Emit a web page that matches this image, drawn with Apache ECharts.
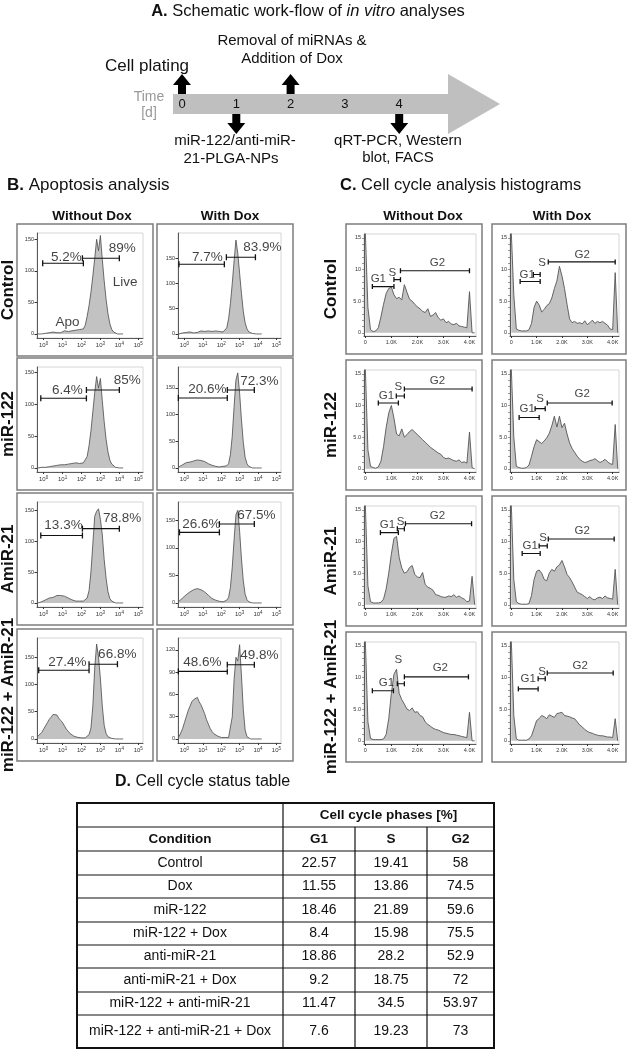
<!DOCTYPE html>
<html>
<head>
<meta charset="utf-8">
<title>miR-122 / AmiR-21 analyses</title>
<style>
  html, body { margin: 0; padding: 0; background: #fff; }
  #chart { width: 628px; height: 1050px; }
</style>
</head>
<body>
<div id="chart"></div>
<script src="https://cdn.jsdelivr.net/npm/echarts@6/dist/echarts.min.js"></script>
<script>
// ---------- data: apoptosis histograms (x = log10 decade, y = count) ----------
var apoBins = [-0.3,-0.2,-0.1,0,0.1,0.2,0.3,0.4,0.5,0.6,0.7,0.8,0.9,1,1.1,1.2,1.3,1.4,1.5,1.6,1.7,1.8,1.9,2,2.1,2.2,2.3,2.4,2.5,2.6,2.7,2.8,2.9,3,3.1,3.2,3.3,3.4,3.5,3.6,3.7,3.8,3.9,4,4.1,4.2];
var apoCtrlNoDox  = [0,1,0,2,1,0,2,1,3,1, 2,4,2,3,5,2,4,3,5,3, 6,4,7,5,8,14,28,45,66,92, 120,150,132,156,118,84,55,32,16,7, 3,1,0,0,0,0];
var apoCtrlDox    = [0,1,2,1,3,2,4,3,2,5, 3,4,6,3,5,4,6,3,5,4, 6,4,5,3,4,6,12,30,60,100, 145,186,160,120,80,45,22,10,4,2, 1,0,0,0,0,0];
var apoMirNoDox   = [0,0,1,2,1,3,2,4,3,5, 4,6,5,7,5,8,6,5,7,6, 8,5,7,6,8,10,18,35,58,88, 118,143,125,140,105,72,45,25,12,6, 3,1,0,0,0,0];
var apoMirDox     = [2,4,6,8,10,12,11,14,13,16, 15,17,14,15,12,10,8,6,5,4, 3,3,2,2,3,2,4,8,25,60, 115,165,178,140,90,48,20,8,3,1, 0,0,0,0,0,0];
var apoAmiNoDox   = [0,1,2,3,5,6,8,7,9,10, 12,11,12,10,11,9,8,6,5,4, 3,4,3,2,3,4,8,20,50,95, 140,148,152,135,110,70,40,18,7,3, 1,0,0,0,0,0];
var apoAmiDox     = [3,6,9,12,15,18,20,22,24,23, 26,25,24,22,20,17,14,11,8,6, 5,4,3,3,2,3,5,10,28,65, 115,160,168,130,80,40,16,6,2,1, 0,0,0,0,0,0];
var apoComboNoDox = [5,8,12,18,24,30,36,40,45,42, 44,38,34,30,24,18,14,10,7,5, 4,3,3,2,3,2,4,8,20,60, 130,174,150,110,60,25,10,4,2,1, 0,0,0,0,0,0];
var apoComboDox   = [3,8,14,22,30,38,44,50,53,52, 56,50,46,40,34,26,20,14,10,7, 5,4,3,2,1,2,1,2,2,30, 80,110,105,127,85,40,12,3,1,0, 0,0,0,0,0,0];
var apoYMax  = [160, 200, 158, 189, 163, 183, 185, 136];
var apoYTicks = [[0,50,100,150],[0,50,100,150],[0,50,100,150],[0,50,100,150],[0,50,100,150],[0,50,100,150],[0,50,100,150],[0,30,60,90,120]];
var apoXTicks = [0, 1, 2, 3, 4, 5];
// gates [from, to, height] and percentages with their label anchor [x, y]
var apoLeftGate  = [[-0.05,2.1,112],[-0.3,2.17,138],[-0.15,2.26,109],[-0.33,2.33,131],[-0.15,2.05,109],[-0.27,1.9,128],[-0.26,2.4,126],[-0.33,2.33,91]];
var apoRightGate = [[2.05,4.0,120],[2.28,3.86,152],[2.26,4.0,122],[2.33,3.8,146],[2.05,4.0,120],[1.9,3.8,143],[2.4,3.9,137],[2.33,3.8,100]];
var apoLeftPct  = ['5.2%','7.7%','6.4%','20.6%','13.3%','26.6%','27.4%','48.6%'];
var apoRightPct = ['89%','83.9%','85%','72.3%','78.8%','67.5%','66.8%','49.8%'];
var apoLeftPos  = [[1.2,122],[1.25,152],[1.26,122],[1.25,148],[1.05,125],[0.92,143],[1.26,141],[0.98,103]];
var apoRightPos = [[4.15,136],[4.24,172],[4.42,137],[4.08,163],[4.15,137],[3.91,159],[3.89,155],[4.08,113]];

// ---------- data: cell cycle histograms (x = DNA content in K, y = count) ----------
var ccBins = [0,0.1,0.2,0.3,0.4,0.5,0.6,0.7,0.8,0.9,1,1.1,1.2,1.3,1.4,1.5,1.6,1.7,1.8,1.9,2,2.1,2.2,2.3,2.4,2.5,2.6,2.7,2.8,2.9,3,3.1,3.2,3.3,3.4,3.5,3.6,3.7,3.8,3.9,4,4.1,4.2];
var ccCtrlNoDox  = [16,4,0.5,0.2,0.3,0.8,2.5,4.5,6.2,7.0, 7.2,6.0,5.4,5.6,5.2,7.6,6.4,5.3,5.0,4.5, 4.1,3.8,3.4,3.2,3.8,2.6,2.8,3.2,2.4,2.0, 2.2,1.6,1.8,1.4,1.3,1.5,1.1,1.0,0.9,0.8, 6.5,0,0];
var ccCtrlDox    = [16,6,0.6,0.4,0.3,0.3,0.3,0.5,1.5,4.0, 5.0,4.4,3.3,3.7,4.3,4.6,5.5,7.0,8.2,10.5, 9.0,7.0,4.5,2.2,1.6,1.8,1.5,1.6,1.4,1.9, 1.3,1.6,2.0,1.5,1.8,1.6,1.8,1.5,1.2,0.6, 0.5,9.5,0];
var ccMirNoDox   = [16,3,0.4,0.2,0.1,0.3,1.2,3.5,6.5,8.8, 10.0,8.0,5.5,5.2,6.3,5.0,5.4,5.9,6.2,5.8, 5.4,5.0,4.6,4.2,3.8,3.4,3.1,2.8,2.5,2.3, 1.8,1.6,1.7,1.5,1.3,1.2,1.4,1.0,1.1,0.9, 5.8,0.2,0];
var ccMirDox     = [16,5,0.4,0.2,0.1,0.1,0.2,0.6,2.0,3.5, 4.6,4.3,4.0,4.4,4.9,5.6,6.8,8.3,6.6,8.3, 6.5,7.2,5.5,4.1,3.2,2.6,2.0,1.5,1.2,1.0, 1.1,1.3,1.4,1.6,1.3,1.0,1.2,1.5,1.1,0.8, 0.7,7.0,0];
var ccAmiNoDox   = [16,3,0.5,0.3,0.3,0.3,0.4,0.9,2.5,5.0, 8.0,10.5,10.8,7.5,5.8,5.0,5.2,5.9,6.2,4.8, 4.4,4.3,5.1,3.2,2.8,2.6,2.3,1.6,1.5,1.3, 1.2,1.2,1.4,1.3,1.6,1.2,1.4,1.1,0.9,0.5, 0.6,4.5,0];
var ccAmiDox     = [16,4,0.5,0.2,0.1,0.1,0.1,0.2,1.5,4.0, 5.3,5.5,5.0,4.0,3.8,5.0,5.6,5.3,6.0,6.3, 7.0,6.0,4.8,4.3,3.6,2.8,2.0,1.8,1.6,1.3, 1.0,1.3,0.9,0.8,1.1,1.2,1.0,1.4,1.1,1.0, 0.9,5.6,0];
var ccComboNoDox = [16,3,0.4,0.2,0.2,0.2,0.2,0.3,1.0,3.5, 7.5,10.5,11.3,7.5,6.5,5.8,5.0,4.8,5.2,4.5, 4.6,4.0,3.8,3.0,2.6,2.3,2.0,1.8,1.7,1.5, 1.3,1.2,1.1,1.0,1.0,0.9,0.8,0.7,0.6,0.5, 4.5,0,0];
var ccComboDox   = [16,4,0.3,0.1,0.1,0.1,0.1,0.3,0.8,2.0, 3.2,3.5,4.0,3.8,3.5,4.1,3.9,3.7,4.3,4.4, 4.5,4.0,3.9,3.8,3.6,3.5,3.0,2.5,2.2,1.8, 1.5,1.3,1.2,1.0,0.9,0.8,0.8,0.7,0.6,0.6, 0.5,3.5,0];
var ccYTicks = [0, 5, 10, 15];
var ccXTicks = [0, 1, 2, 3, 4];
// gate bars per panel: G1, S, G2 as [from, to, height]; label anchors as [x, y]
var ccBars = [
  [[0.27,1.1,7.3],[1.1,1.35,8.4],[1.35,4.0,9.8]],
  [[0.35,1.14,8.1],[0.87,1.14,9.2],[1.46,4.1,11.2]],
  [[0.5,1.27,10.4],[1.19,1.5,11.5],[1.5,4.1,12.6]],
  [[0.31,1.1,8.1],[0.94,1.34,9.5],[1.42,3.98,10.4]],
  [[0.58,1.27,11.4],[1.23,1.5,12.0],[1.54,4.08,12.8]],
  [[0.43,1.14,8.1],[1.1,1.42,9.3],[1.46,4.06,10.4]],
  [[0.27,1.08,7.9],[1.23,1.5,9.0],[1.5,3.96,10.1]],
  [[0.28,1.06,8.2],[1.06,1.34,9.8],[1.42,4.02,10.7]]
];
var ccPhaseNames = ['G1', 'S', 'G2'];
var ccLabelPos = [
  [[0.5,8.5],[1.04,9.5],[2.77,11.1]],
  [[0.63,9.2],[1.22,11.1],[2.8,12.3]],
  [[0.81,11.5],[1.27,12.9],[2.77,13.9]],
  [[0.63,9.5],[1.14,11.1],[2.8,11.8]],
  [[0.85,12.6],[1.35,13.1],[2.77,14.0]],
  [[0.75,9.3],[1.26,10.6],[2.8,11.7]],
  [[0.81,9.1],[1.27,12.8],[2.88,11.5]],
  [[0.67,9.8],[1.22,10.9],[2.72,11.9]]
];

// ---------- data: table ----------
var conditions = ['Control','Dox','miR-122','miR-122 + Dox','anti-miR-21','anti-miR-21 + Dox','miR-122 + anti-miR-21','miR-122 + anti-miR-21 + Dox'];
var g1Pct = [22.57, 11.55, 18.46, 8.4, 18.86, 9.2, 11.47, 7.6];
var sPct  = [19.41, 13.86, 21.89, 15.98, 28.2, 18.75, 34.5, 19.23];
var g2Pct = [58, 74.5, 59.6, 75.5, 52.9, 72, 53.97, 73];

var rowNames = ['Control', 'miR-122', 'AmiR-21', 'miR-122 + AmiR-21'];
var days = [0, 1, 2, 3, 4];

// ---------- layout ----------
var FONT = '"Liberation Sans", Arial, sans-serif';
var bTops = [224, 358, 493, 629];
var cTops = [224, 360, 496, 632];
var apoHists = [apoCtrlNoDox, apoCtrlDox, apoMirNoDox, apoMirDox, apoAmiNoDox, apoAmiDox, apoComboNoDox, apoComboDox];
var ccHists = [ccCtrlNoDox, ccCtrlDox, ccMirNoDox, ccMirDox, ccAmiNoDox, ccAmiDox, ccComboNoDox, ccComboDox];

var chart = echarts.init(document.getElementById('chart'));
var grid = [], xAxis = [], yAxis = [], series = [];

function zip(xs, ys) {
  return xs.map(function (x, i) { return [x, ys[i]]; });
}
function gate(idx, g, cap) {
  return {
    type: 'line', xAxisIndex: idx, yAxisIndex: idx, silent: true, z: 5,
    data: [[g[0], g[2]], [g[1], g[2]]],
    symbol: 'rect', symbolSize: [1.3, cap], showSymbol: true,
    lineStyle: { color: '#111', width: 1.1 }, itemStyle: { color: '#111' }
  };
}
function labels(idx, items, size) {
  return {
    type: 'scatter', xAxisIndex: idx, yAxisIndex: idx, silent: true, z: 6,
    symbolSize: 1, itemStyle: { color: 'rgba(0,0,0,0)' },
    data: items.map(function (it) { return { name: it[0], value: [it[1], it[2]] }; }),
    label: { show: true, position: 'inside', formatter: '{b}', fontSize: size, color: '#111', fontFamily: FONT }
  };
}
var thinAxis = { show: true, onZero: false, lineStyle: { color: '#333', width: 0.8 } };

// apoptosis panels
apoHists.forEach(function (vals, p) {
  var row = Math.floor(p / 2), col = p % 2, idx = grid.length;
  grid.push({ left: [37, 178][col], width: [106, 103][col], top: bTops[row] + 9, height: 105,
              show: true, borderColor: '#cccccc', borderWidth: 0.8 });
  xAxis.push({
    type: 'value', gridIndex: idx, min: -0.35, max: 5.25,
    axisLine: thinAxis, splitLine: { show: false },
    axisTick: { show: true, length: 2, customValues: apoXTicks, lineStyle: { color: '#333' } },
    axisLabel: {
      customValues: apoXTicks, margin: 3, color: '#333',
      formatter: function (v) { return '{b|10}{s|' + v + '}'; },
      rich: { b: { fontSize: 6, fontFamily: FONT, color: '#333' },
              s: { fontSize: 4.5, fontFamily: FONT, color: '#333', padding: [0, 0, 4, 0] } }
    }
  });
  yAxis.push({
    type: 'value', gridIndex: idx, min: -apoYMax[p] * 0.04, max: apoYMax[p],
    axisLine: thinAxis, splitLine: { show: false },
    axisTick: { show: true, length: 2.5, customValues: apoYTicks[p], lineStyle: { color: '#333' } },
    axisLabel: { customValues: apoYTicks[p], fontSize: 5.5, color: '#333', margin: 3, fontFamily: FONT }
  });
  series.push({
    type: 'line', xAxisIndex: idx, yAxisIndex: idx, silent: true,
    data: zip(apoBins, vals), symbol: 'none',
    lineStyle: { color: '#4a4a4a', width: 0.8 },
    areaStyle: { color: '#c2c2c2', opacity: 1 }
  });
  series.push(gate(idx, apoLeftGate[p], 6));
  series.push(gate(idx, apoRightGate[p], 6));
  var items = [[apoLeftPct[p], apoLeftPos[p][0], apoLeftPos[p][1]],
               [apoRightPct[p], apoRightPos[p][0], apoRightPos[p][1]]];
  if (p === 0) {
    items.push(['Live', 4.3, 82]);
    items.push(['Apo', 1.26, 19]);
  }
  series.push(labels(idx, items, 13.5));
});

// cell cycle panels
var ccLabelText = { 0: '0', 5: '5.0', 10: '10', 15: '15' };
ccHists.forEach(function (vals, p) {
  var row = Math.floor(p / 2), col = p % 2, idx = grid.length;
  grid.push({ left: [364, 510][col], width: [112, 109][col], top: cTops[row] + 10, height: 102,
              show: true, borderColor: '#cccccc', borderWidth: 0.8 });
  xAxis.push({
    type: 'value', gridIndex: idx, min: -0.05, max: 4.25,
    axisLine: thinAxis, splitLine: { show: false },
    axisTick: { show: true, length: 2, customValues: ccXTicks, lineStyle: { color: '#333' } },
    axisLabel: { customValues: ccXTicks, fontSize: 5.5, color: '#333', margin: 3, fontFamily: FONT,
                 formatter: function (v) { return v === 0 ? '0' : v.toFixed(1) + 'K'; } }
  });
  yAxis.push({
    type: 'value', gridIndex: idx, min: -0.5, max: 15.6,
    axisLine: thinAxis, splitLine: { show: false },
    axisTick: { show: true, length: 2, customValues: [0,1,2,3,4,5,6,7,8,9,10,11,12,13,14,15], lineStyle: { color: '#555', width: 0.6 } },
    axisLabel: { customValues: ccYTicks, fontSize: 5.5, color: '#333', margin: 3, fontFamily: FONT,
                 formatter: function (v) { return ccLabelText[v]; } }
  });
  series.push({
    type: 'line', xAxisIndex: idx, yAxisIndex: idx, silent: true,
    data: zip(ccBins, vals), symbol: 'none',
    lineStyle: { color: '#555', width: 0.9 },
    areaStyle: { color: '#c2c2c2', opacity: 1 }
  });
  ccBars[p].forEach(function (b) { series.push(gate(idx, b, 5)); });
  series.push(labels(idx, ccPhaseNames.map(function (n, k) {
    return [n, ccLabelPos[p][k][0], ccLabelPos[p][k][1]];
  }), 11.5));
});

// ---------- graphics: titles, boxes, schematic, table ----------
var gfx = [];
function text(x, y, str, size, opt) {
  opt = opt || {};
  var el = { type: 'text', x: x, y: y, silent: true, rotation: opt.rotation || 0,
    style: { text: str, fontSize: size, fontFamily: FONT, fill: opt.fill || '#111',
             fontWeight: opt.bold ? 'bold' : 'normal', align: opt.align || 'center',
             verticalAlign: 'middle', rich: opt.rich } };
  gfx.push(el);
}
function box(x, y, w, h, stroke, lw) {
  gfx.push({ type: 'rect', silent: true, shape: { x: x, y: y, width: w, height: h },
             style: { fill: 'none', stroke: stroke, lineWidth: lw } });
}
function hline(x1, x2, y, lw) {
  gfx.push({ type: 'line', silent: true, shape: { x1: x1, y1: y, x2: x2, y2: y }, style: { stroke: '#111', lineWidth: lw } });
}
function vline(x, y1, y2, lw) {
  gfx.push({ type: 'line', silent: true, shape: { x1: x, y1: y1, x2: x, y2: y2 }, style: { stroke: '#111', lineWidth: lw } });
}
var titleRich = function (size) {
  return { b: { fontWeight: 'bold', fontSize: size, fontFamily: FONT, fill: '#111' },
           i: { fontStyle: 'italic', fontSize: size, fontFamily: FONT, fill: '#111' } };
};

// panel A schematic
text(308, 11, '{b|A.} Schematic work-flow of {i|in vitro} analyses', 16.5, { rich: titleRich(16.5) });
var barTop = 94, barBot = 114, dayX0 = 182, dayStep = 54.3;
gfx.push({ type: 'polygon', silent: true,
  shape: { points: [[173, barTop], [448, barTop], [448, 74], [500, 104], [448, 134], [448, barBot], [173, barBot]] },
  style: { fill: '#bfbfbf' } });
days.forEach(function (d) { text(dayX0 + d * dayStep, 104, String(d), 13); });
function arrow(cx, y0, dir) {
  var s = dir; // -1 up, +1 down
  gfx.push({ type: 'polygon', silent: true, style: { fill: '#000' },
    shape: { points: [[cx - 4, y0], [cx - 4, y0 + s * 9], [cx - 9, y0 + s * 9], [cx, y0 + s * 20],
                      [cx + 9, y0 + s * 9], [cx + 4, y0 + s * 9], [cx + 4, y0]] } });
}
arrow(dayX0 + days[0] * dayStep, barTop, -1);
arrow(dayX0 + days[2] * dayStep, barTop, -1);
arrow(dayX0 + days[1] * dayStep, barBot, 1);
arrow(dayX0 + days[4] * dayStep, barBot, 1);
text(149, 97, 'Time', 14, { fill: '#999' });
text(149, 113, '[d]', 14, { fill: '#999' });
text(147, 66, 'Cell plating', 17);
text(292, 41, 'Removal of miRNAs &', 15);
text(292, 59, 'Addition of Dox', 15);
text(235, 141, 'miR-122/anti-miR-', 15);
text(231, 159, '21-PLGA-NPs', 15);
text(398, 141, 'qRT-PCR, Western', 15);
text(398, 158, 'blot, FACS', 15);

// panel B + C frames and labels
text(7, 185, '{b|B.} Apoptosis analysis', 17, { align: 'left', rich: titleRich(17) });
text(340, 185, '{b|C.} Cell cycle analysis histograms', 16.5, { align: 'left', rich: titleRich(16.5) });
text(92, 216, 'Without Dox', 13.5, { bold: true });
text(230, 216, 'With Dox', 13.5, { bold: true });
text(423, 216, 'Without Dox', 13.5, { bold: true });
text(562, 216, 'With Dox', 13.5, { bold: true });
rowNames.forEach(function (name, r) {
  box(17, bTops[r], 136, 132, '#7d7d7d', 1.5);
  box(157, bTops[r], 136, 132, '#7d7d7d', 1.5);
  box(346, cTops[r], 136, 130, '#7d7d7d', 1.5);
  box(492, cTops[r], 134, 130, '#7d7d7d', 1.5);
  text(8, bTops[r] + 66, name, 17, { bold: true, rotation: Math.PI / 2 });
  text(331, cTops[r] + 65, name, 17, { bold: true, rotation: Math.PI / 2 });
});

// panel D table
text(115, 782, '{b|D.} Cell cycle status table', 16, { align: 'left', rich: titleRich(16) });
var tCols = [77, 283, 355, 427, 494];
var tRows = [803, 827, 851, 875, 898, 922, 945, 968, 992, 1015, 1048];
tRows.forEach(function (y) { hline(tCols[0], tCols[4], y, 1.2); });
vline(tCols[1], tRows[0], tRows[10], 1.2);
vline(tCols[2], tRows[1], tRows[10], 1.2);
vline(tCols[3], tRows[1], tRows[10], 1.2);
box(tCols[0], tRows[0], tCols[4] - tCols[0], tRows[10] - tRows[0], '#111', 2);
function cellCenter(c) { return (tCols[c] + tCols[c + 1]) / 2; }
function rowCenter(r) { return (tRows[r] + tRows[r + 1]) / 2; }
text((tCols[1] + tCols[4]) / 2, rowCenter(0), 'Cell cycle phases [%]', 13.5, { bold: true });
['Condition', 'G1', 'S', 'G2'].forEach(function (h, c) { text(cellCenter(c), rowCenter(1), h, 13.5, { bold: true }); });
conditions.forEach(function (cond, i) {
  var y = rowCenter(i + 2);
  text(cellCenter(0), y, cond, 14);
  text(cellCenter(1), y, String(g1Pct[i]), 14);
  text(cellCenter(2), y, String(sPct[i]), 14);
  text(cellCenter(3), y, String(g2Pct[i]), 14);
});

chart.setOption({
  animation: false,
  backgroundColor: '#fff',
  grid: grid,
  xAxis: xAxis,
  yAxis: yAxis,
  series: series,
  graphic: { elements: gfx }
});
</script>
</body>
</html>
